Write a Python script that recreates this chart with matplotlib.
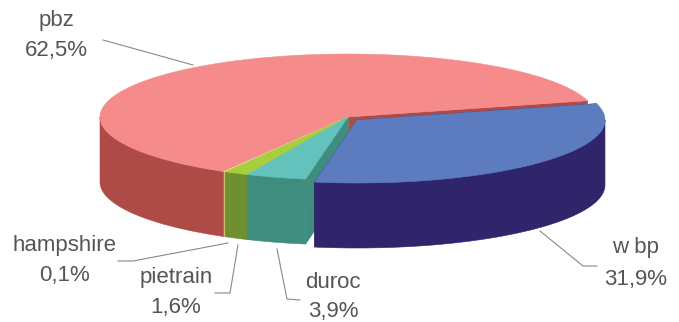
#coding:utf-8
from matplotlib import pyplot as plt
import numpy as np

breeds = ['pbz', 'w bp', 'duroc', 'pietrain', 'hampshire']
shares = [62.5, 31.9, 3.9, 1.6, 0.1]

top_colors = ['#F58B8B', '#5C7CBF', '#63C3BC', '#A8CE3F', '#EDEDA5']
wall_colors = ['#AE4B46', '#30246A', '#3F8D7F', '#6F8F30', '#CDBD70']

plt.rcParams['font.family'] = ['Liberation Sans', 'DejaVu Sans']

fig = plt.figure(figsize=(6.79, 3.22), dpi=100)
ax = fig.add_axes([0, 0, 1, 1])
ax.set_xlim(0, 679)
ax.set_ylim(322, 0)
ax.axis('off')

cx, cy = 348, 117
rx, ry = 248, 63
depth = 65
start = 15
blue_shift = (9, 3)


def arc(x0, y0, a0, a1):
    t = np.radians(np.linspace(a0, a1, 120))
    return x0 + rx * np.cos(t), y0 - ry * np.sin(t)


def draw_slice(a0, a1, shift, top, wall):
    x0, y0 = cx + shift[0], cy + shift[1]
    # radial side walls, seen where the blue slice is pulled out
    for a in (a0, a1):
        px = x0 + rx * np.cos(np.radians(a))
        py = y0 - ry * np.sin(np.radians(a))
        ax.fill([x0, px, px, x0], [y0, py, py + depth, y0 + depth],
                color=wall, lw=0.4, zorder=1)
    # outer wall, only the part facing the viewer (lower half of the ellipse)
    lo, hi = max(a0, -180), min(a1, 0)
    spans = [(lo, hi)] if lo < hi else []
    if a1 > 180:
        spans.append((180, a1))
    for s0, s1 in spans:
        x, y = arc(x0, y0, s0, s1)
        ax.fill(np.r_[x, x[::-1]], np.r_[y, y[::-1] + depth],
                color=wall, lw=0.4, zorder=2)
    x, y = arc(x0, y0, a0, a1)
    ax.fill(np.r_[x0, x], np.r_[y0, y], color=top, lw=0.4, zorder=3)


# clockwise from the pink slice's right edge
angles = []
a = start
for s in shares[1:]:
    angles.append((a - s * 3.6, a))
    a -= s * 3.6
pink = (start, start + shares[0] * 3.6)

# back to front: pink, the small slices, then the pulled-out blue one
draw_slice(pink[0], pink[1], (0, 0), top_colors[0], wall_colors[0])
for i in [4, 3, 2]:
    draw_slice(angles[i - 1][0], angles[i - 1][1], (0, 0), top_colors[i], wall_colors[i])
draw_slice(angles[0][0], angles[0][1], blue_shift, top_colors[1], wall_colors[1])

# leader lines
leaders = [
    ([103, 193], [40, 65]),
    ([597, 583, 540], [266, 266, 231]),
    ([300, 287, 277], [300, 299, 249]),
    ([215, 230, 238], [293, 293, 245]),
    ([118, 133, 228], [261, 261, 243]),
]
for lx, ly in leaders:
    ax.plot(lx, ly, color='#8A8A80', lw=0.8, zorder=4)

# label centres, name row then percent row
label_pos = [(56, 20, 50), (636, 248, 280), (333, 283, 312), (176, 277, 307), (65, 245, 275)]
for name, val, (tx, ty1, ty2) in zip(breeds, shares, label_pos):
    ax.text(tx, ty1, name, ha='center', va='center', fontsize=16, color='#555555')
    ax.text(tx, ty2, f'{val:.1f}%'.replace('.', ','), ha='center', va='center',
            fontsize=16, color='#555555')

plt.savefig('out.png', dpi=100)
